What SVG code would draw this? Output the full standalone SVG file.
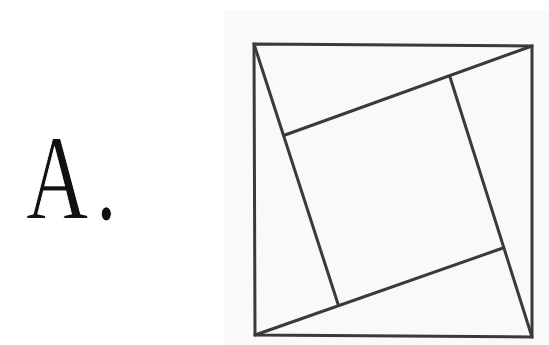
<svg xmlns="http://www.w3.org/2000/svg" width="549" height="345" viewBox="0 0 549 345">
<style>
.ln{stroke:#3a3a3a;stroke-width:3;stroke-linecap:round;fill:none}
.lbl{font-family:"Liberation Serif","Times New Roman",serif;font-size:120px;fill:#111;stroke:#ffffff;stroke-width:1.2}
</style>
<rect width="549" height="345" fill="#ffffff"/>
<rect x="224" y="10" width="325" height="335" fill="#f9f9f9"/>
<g id="label">
<text class="lbl" transform="translate(26,219) scale(0.72,1)">A<tspan dx="10">.</tspan></text>
</g>
<g id="figure">
<polygon class="ln" points="254,44 532,46 532,337 255,335"/>
<line class="ln" x1="254" y1="44" x2="338" y2="304"/>
<line class="ln" x1="532" y1="46" x2="285" y2="135"/>
<line class="ln" x1="450" y1="77" x2="532" y2="337"/>
<line class="ln" x1="255" y1="335" x2="503" y2="248"/>
</g>
</svg>
